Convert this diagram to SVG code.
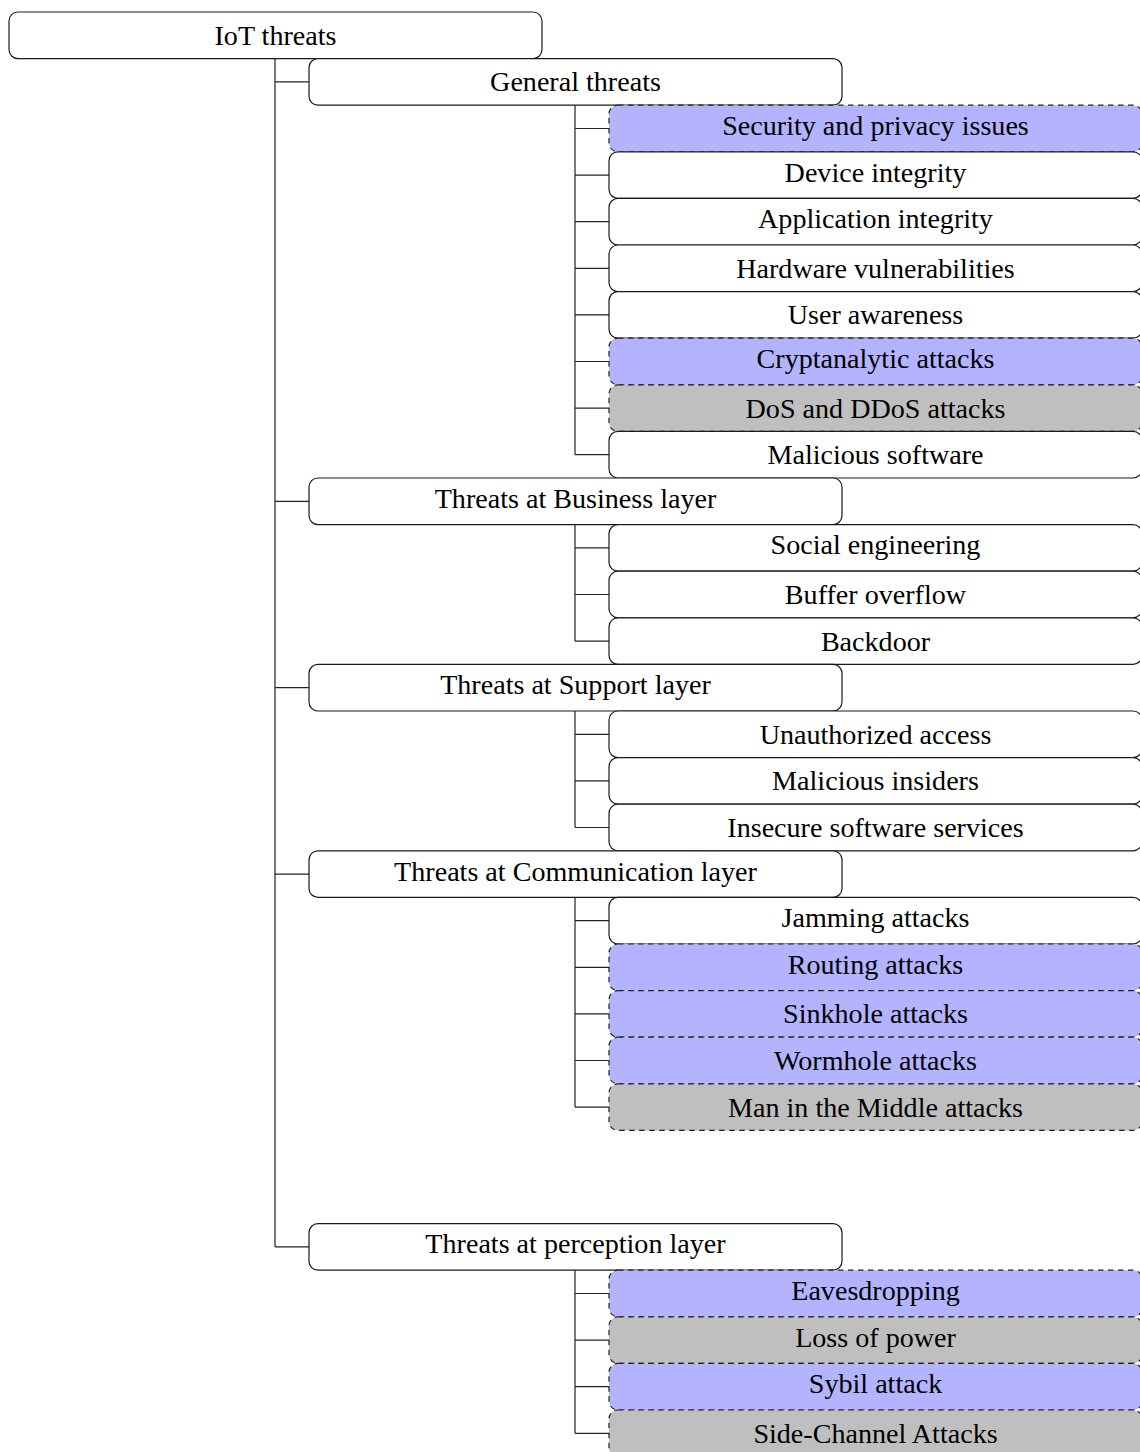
<svg xmlns="http://www.w3.org/2000/svg" width="1140" height="1452" viewBox="0 0 1140 1452">
  <style>
    .box { fill: #ffffff; stroke: #1a1a1a; stroke-width: 1.2; }
    .blue { fill: #b3b3ff; stroke: #222; stroke-width: 1.2; stroke-dasharray: 5.5 4.5; }
    .gray { fill: #bfbfbf; stroke: #222; stroke-width: 1.2; stroke-dasharray: 5.5 4.5; }
    .lbl { font-family: "Liberation Serif", "Times New Roman", serif; font-size: 28.1px; fill: #000; text-anchor: middle; }
    .wire { fill: none; stroke: #222; stroke-width: 1.2; }
  </style>

  <!-- tree connectors -->
  <g id="connectors" class="wire">
    <path d="M275 58.6 V1246.9 M275 81.9 H309 M275 501.3 H309 M275 687.7 H309 M275 874.1 H309 M275 1246.9 H309"/>
    <path d="M575 105.2 V454.7 M575 128.5 H609 M575 175.1 H609 M575 221.7 H609 M575 268.3 H609 M575 314.9 H609 M575 361.5 H609 M575 408.1 H609 M575 454.7 H609"/>
    <path d="M575 524.6 V641.1 M575 547.9 H609 M575 594.5 H609 M575 641.1 H609"/>
    <path d="M575 711 V827.5 M575 734.3 H609 M575 780.9 H609 M575 827.5 H609"/>
    <path d="M575 897.4 V1107.1 M575 920.7 H609 M575 967.3 H609 M575 1013.9 H609 M575 1060.5 H609 M575 1107.1 H609"/>
    <path d="M575 1270.2 V1433.3 M575 1293.5 H609 M575 1340.1 H609 M575 1386.7 H609 M575 1433.3 H609"/>
  </g>

  <!-- root -->
  <g id="iot-threats"><rect class="box" x="9" y="12" width="533" height="46.6" rx="9"/><text class="lbl" x="275.5" y="44.8">IoT threats</text></g>

  <!-- general threats -->
  <g id="general-threats"><rect class="box" x="309" y="58.6" width="533" height="46.6" rx="9"/><text class="lbl" x="575.5" y="91.4">General threats</text></g>
  <g id="security-privacy"><rect class="blue" x="609" y="105.2" width="533" height="46.6" rx="9"/><text class="lbl" x="875.5" y="135">Security and privacy issues</text></g>
  <g id="device-integrity"><rect class="box" x="609" y="151.8" width="533" height="46.6" rx="9"/><text class="lbl" x="875.5" y="181.6">Device integrity</text></g>
  <g id="application-integrity"><rect class="box" x="609" y="198.4" width="533" height="46.6" rx="9"/><text class="lbl" x="875.5" y="228.2">Application integrity</text></g>
  <g id="hardware-vulnerabilities"><rect class="box" x="609" y="245" width="533" height="46.6" rx="9"/><text class="lbl" x="875.5" y="277.8">Hardware vulnerabilities</text></g>
  <g id="user-awareness"><rect class="box" x="609" y="291.6" width="533" height="46.6" rx="9"/><text class="lbl" x="875.5" y="324.4">User awareness</text></g>
  <g id="cryptanalytic"><rect class="blue" x="609" y="338.2" width="533" height="46.6" rx="9"/><text class="lbl" x="875.5" y="368">Cryptanalytic attacks</text></g>
  <g id="dos-ddos"><rect class="gray" x="609" y="384.8" width="533" height="46.6" rx="9"/><text class="lbl" x="875.5" y="417.6">DoS and DDoS attacks</text></g>
  <g id="malicious-software"><rect class="box" x="609" y="431.4" width="533" height="46.6" rx="9"/><text class="lbl" x="875.5" y="464.2">Malicious software</text></g>

  <!-- business layer -->
  <g id="business-layer"><rect class="box" x="309" y="478" width="533" height="46.6" rx="9"/><text class="lbl" x="575.5" y="507.8">Threats at Business layer</text></g>
  <g id="social-engineering"><rect class="box" x="609" y="524.6" width="533" height="46.6" rx="9"/><text class="lbl" x="875.5" y="554.4">Social engineering</text></g>
  <g id="buffer-overflow"><rect class="box" x="609" y="571.2" width="533" height="46.6" rx="9"/><text class="lbl" x="875.5" y="604">Buffer overflow</text></g>
  <g id="backdoor"><rect class="box" x="609" y="617.8" width="533" height="46.6" rx="9"/><text class="lbl" x="875.5" y="650.6">Backdoor</text></g>

  <!-- support layer -->
  <g id="support-layer"><rect class="box" x="309" y="664.4" width="533" height="46.6" rx="9"/><text class="lbl" x="575.5" y="694.2">Threats at Support layer</text></g>
  <g id="unauthorized-access"><rect class="box" x="609" y="711" width="533" height="46.6" rx="9"/><text class="lbl" x="875.5" y="743.8">Unauthorized access</text></g>
  <g id="malicious-insiders"><rect class="box" x="609" y="757.6" width="533" height="46.6" rx="9"/><text class="lbl" x="875.5" y="790.4">Malicious insiders</text></g>
  <g id="insecure-software"><rect class="box" x="609" y="804.2" width="533" height="46.6" rx="9"/><text class="lbl" x="875.5" y="837">Insecure software services</text></g>

  <!-- communication layer -->
  <g id="communication-layer"><rect class="box" x="309" y="850.8" width="533" height="46.6" rx="9"/><text class="lbl" x="575.5" y="880.6">Threats at Communication layer</text></g>
  <g id="jamming"><rect class="box" x="609" y="897.4" width="533" height="46.6" rx="9"/><text class="lbl" x="875.5" y="927.2">Jamming attacks</text></g>
  <g id="routing"><rect class="blue" x="609" y="944" width="533" height="46.6" rx="9"/><text class="lbl" x="875.5" y="973.8">Routing attacks</text></g>
  <g id="sinkhole"><rect class="blue" x="609" y="990.6" width="533" height="46.6" rx="9"/><text class="lbl" x="875.5" y="1023.4">Sinkhole attacks</text></g>
  <g id="wormhole"><rect class="blue" x="609" y="1037.2" width="533" height="46.6" rx="9"/><text class="lbl" x="875.5" y="1070">Wormhole attacks</text></g>
  <g id="man-in-the-middle"><rect class="gray" x="609" y="1083.8" width="533" height="46.6" rx="9"/><text class="lbl" x="875.5" y="1116.6">Man in the Middle attacks</text></g>

  <!-- perception layer -->
  <g id="perception-layer"><rect class="box" x="309" y="1223.6" width="533" height="46.6" rx="9"/><text class="lbl" x="575.5" y="1253.4">Threats at perception layer</text></g>
  <g id="eavesdropping"><rect class="blue" x="609" y="1270.2" width="533" height="46.6" rx="9"/><text class="lbl" x="875.5" y="1300">Eavesdropping</text></g>
  <g id="loss-of-power"><rect class="gray" x="609" y="1316.8" width="533" height="46.6" rx="9"/><text class="lbl" x="875.5" y="1346.6">Loss of power</text></g>
  <g id="sybil"><rect class="blue" x="609" y="1363.4" width="533" height="46.6" rx="9"/><text class="lbl" x="875.5" y="1393.2">Sybil attack</text></g>
  <g id="side-channel"><rect class="gray" x="609" y="1410" width="533" height="46.6" rx="9"/><text class="lbl" x="875.5" y="1442.8">Side-Channel Attacks</text></g>
</svg>
